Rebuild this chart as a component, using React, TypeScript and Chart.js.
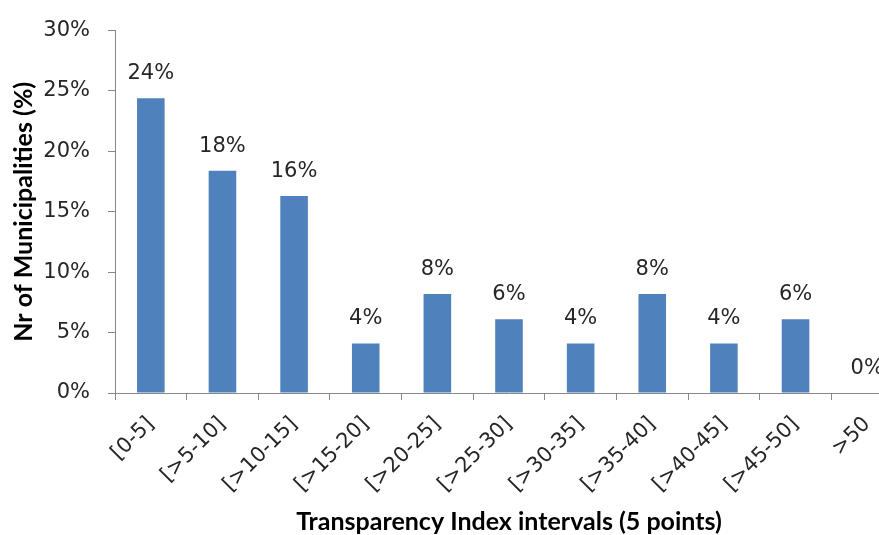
import React, { useEffect, useRef } from "react";
import { Chart, registerables } from "chart.js";

Chart.register(...registerables);

const categories = ["[0-5]", "[>5-10]", "[>10-15]", "[>15-20]", "[>20-25]", "[>25-30]", "[>30-35]", "[>35-40]", "[>40-45]", "[>45-50]", ">50"];
const values = [24.4, 18.4, 16.3, 4.1, 8.2, 6.1, 4.1, 8.2, 4.1, 6.1, 0];
const yTicks = [0, 5, 10, 15, 20, 25, 30];
const xTitle = "Transparency Index intervals (5 points)";
const yTitle = "Nr of Municipalities (%)";

const TICK_FONT = "'DejaVu Sans', sans-serif";
const TITLE_FONT = "Lato, 'DejaVu Sans', sans-serif";

const labelPlugin = {
  id: "barLabels",
  afterDatasetsDraw(chart: any) {
    const ctx = chart.ctx;
    const meta = chart.getDatasetMeta(0);
    ctx.save();
    ctx.font = `21px ${TICK_FONT}`;
    ctx.fillStyle = "#262626";
    ctx.textAlign = "center";
    ctx.textBaseline = "alphabetic";
    meta.data.forEach((el: any, i: number) => {
      const v = values[i];
      ctx.fillText(Math.round(v) + "%", el.x, el.y - 19);
    });
    ctx.restore();
  },
};

export default function App() {
  const ref = useRef<HTMLCanvasElement>(null);
  useEffect(() => {
    if (!ref.current) return;
    const chart = new Chart(ref.current, {
      type: "bar",
      data: {
        labels: categories,
        datasets: [
          {
            data: values,
            backgroundColor: "#4F81BD",
            categoryPercentage: 1,
            barPercentage: 0.385,
          },
        ],
      },
      options: {
        animation: false,
        responsive: false,
        devicePixelRatio: 1,
        layout: { padding: { top: 25, left: 0, right: 17, bottom: 0 } },
        plugins: { legend: { display: false }, tooltip: { enabled: false } },
        scales: {
          x: {
            offset: true,
            grid: { offset: true, drawOnChartArea: false, drawTicks: true, tickLength: 7, tickColor: "#888888" },
            border: { display: true, color: "#888888" },
            ticks: {
              autoSkip: false,
              minRotation: 45,
              maxRotation: 45,
              color: "#262626",
              font: { family: TICK_FONT, size: 21 },
              padding: 12,
            },
            title: {
              display: true,
              text: xTitle,
              color: "#000000",
              font: { family: TITLE_FONT, size: 25, weight: "bold" },
              padding: { top: 4, bottom: -2 },
            },
            afterFit: (s: any) => {
              s.height = 142;
            },
          },
          y: {
            min: 0,
            max: 30,
            afterBuildTicks: (s: any) => {
              s.ticks = yTicks.map((v) => ({ value: v }));
            },
            grid: { drawOnChartArea: false, drawTicks: true, tickLength: 7, tickColor: "#888888" },
            border: { display: true, color: "#888888" },
            ticks: {
              color: "#262626",
              font: { family: TICK_FONT, size: 21 },
              padding: 18,
              callback: (v: any) => v + "%",
            },
            title: {
              display: true,
              text: yTitle,
              color: "#000000",
              font: { family: TITLE_FONT, size: 25, weight: "bold" },
              padding: { top: 9, bottom: 0 },
            },
            afterFit: (s: any) => {
              s.width = 115;
            },
          },
        },
      },
      plugins: [labelPlugin],
    });
    return () => chart.destroy();
  }, []);
  return (
    <div style={{ position: "absolute", left: 0, top: 0, width: 879, height: 535, overflow: "hidden", background: "#fff" }}>
      <canvas ref={ref} width={920} height={535} style={{ display: "block", width: 920, height: 535 }} />
    </div>
  );
}
